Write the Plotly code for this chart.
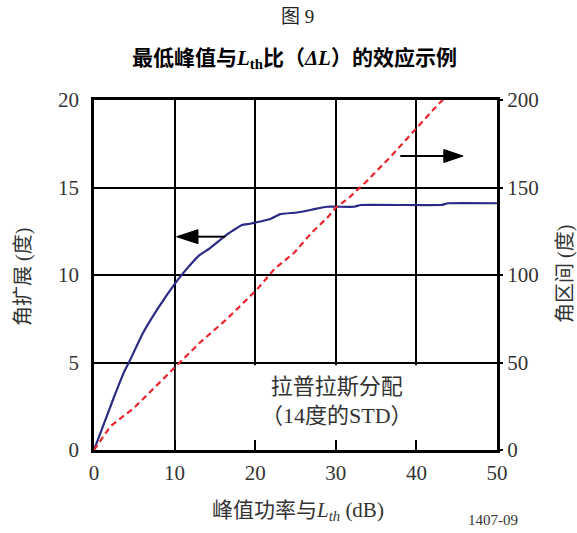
import plotly.graph_objects as go

# Data
blue_x = [0, 1.19, 2.46, 3.73, 4.36, 6.06, 7.97, 10.0, 11.14, 13.05, 14.3, 16.4, 18.35, 19.4,
          21.9, 23.1, 25.2, 27.3, 28.9, 32.3, 33.1, 43.1, 43.9, 50.0]
blue_y = [0, 1.45, 3.0, 4.45, 5.03, 6.67, 8.12, 9.48, 10.15, 11.12, 11.5, 12.28, 12.86, 12.93,
          13.2, 13.48, 13.57, 13.76, 13.9, 13.9, 14.0, 14.0, 14.1, 14.1]

red_x = [0, 2.03, 5.0, 10.1, 13.05, 16.4, 20.25, 22.4, 24.9, 26.9, 29.0, 30.0, 31.6, 33.7, 36.8,
         42.8, 43.3]
red_y = [0, 13.5, 24.2, 47.4, 61, 74.5, 91.9, 103.5, 113, 123.7, 133, 138.5, 144, 153, 167.6,
         198, 200]

x_ticks = [0, 10, 20, 30, 40, 50]
y_ticks = [0, 5, 10, 15, 20]
y2_ticks = [0, 50, 100, 150, 200]

# arrows: (tail x, base-of-head x, tip x, y on left axis, half width)
left_arrow = (16.3, 12.9, 10.25, 12.19, 0.4)
right_arrow = (38.0, 43.4, 45.8, 16.8, 0.37)

SERIF = "'Liberation Serif', 'Times New Roman', Tinos, 'DejaVu Serif', 'Noto Serif', 'Noto Sans CJK SC', serif"

fig = go.Figure()
fig.add_trace(go.Scatter(x=blue_x, y=blue_y, mode="lines",
                         line=dict(color="#2b2a85", width=2.2, shape="spline", smoothing=0.3),
                         showlegend=False))
fig.add_trace(go.Scatter(x=red_x, y=red_y, mode="lines", yaxis="y2",
                         line=dict(color="#e8242c", width=2.2, dash="6px,4px"), showlegend=False))

shapes = []
# white box masking the gridlines behind the label
shapes.append(dict(type="rect", xref="x", yref="y", x0=10.15, x1=49.85, y0=0.57, y1=4.85,
                   fillcolor="white", line=dict(width=0), layer="between"))
for (tail, base, tip, yy, hw) in [left_arrow, right_arrow]:
    shapes.append(dict(type="line", xref="x", yref="y", x0=tail, x1=base, y0=yy, y1=yy,
                       line=dict(color="black", width=2)))
    shapes.append(dict(type="path", xref="x", yref="y",
                       path=f"M{base},{yy-hw} L{tip},{yy} L{base},{yy+hw} Z",
                       fillcolor="black", line=dict(color="black", width=1)))

annotations = [
    dict(text="图 9", x=297, y=16, showarrow=False,
         font=dict(family=SERIF, size=19, color="#222")),
    dict(text="<b>最低峰值与<i>L</i><sub>th</sub>比（<i>ΔL</i>）的效应示例</b>", x=294, y=59,
         showarrow=False, font=dict(family=SERIF, size=21, color="black")),
    dict(text="角扩展 (度)", x=23, y=277, textangle=-90, showarrow=False,
         font=dict(family=SERIF, size=20, color="#333")),
    dict(text="角区间 (度)", x=565, y=274, textangle=-90, showarrow=False,
         font=dict(family=SERIF, size=20, color="#333")),
    dict(text="峰值功率与<i>L<sub>th</sub></i> (dB)", x=298, y=511, showarrow=False,
         font=dict(family=SERIF, size=21, color="#333")),
    dict(text="1407-09", x=493, y=520, showarrow=False,
         font=dict(family=SERIF, size=15, color="#333")),
]
# convert pixel positions to paper coordinates
W, H = 577, 533
L, R, T, B = 94, 80, 100, 83
pw, ph = W - L - R, H - T - B
for a in annotations:
    a["xref"] = "paper"
    a["yref"] = "paper"
    a["x"] = (a["x"] - L) / pw
    a["y"] = 1 - (a["y"] - T) / ph
    a["xanchor"] = "center"
    a["yanchor"] = "middle"

annotations.append(dict(text="拉普拉斯分配<br>（14度的STD）", x=30.2, y=2.8, xref="x", yref="y",
                        showarrow=False, align="center",
                        font=dict(family=SERIF, size=22, color="#333")))

fig.update_layout(
    width=W, height=H,
    margin=dict(l=L, r=R, t=T, b=B, autoexpand=False),
    plot_bgcolor="white", paper_bgcolor="white",
    xaxis=dict(range=[0, 50], tickvals=x_ticks, showgrid=True, gridcolor="black", gridwidth=2,
               showline=True, linecolor="black", linewidth=2.5, mirror=True, zeroline=False,
               ticks="", ticklabelstandoff=2, automargin=False,
               tickfont=dict(family=SERIF, size=21, color="#333")),
    yaxis=dict(range=[0, 20], tickvals=y_ticks, showgrid=True, gridcolor="black", gridwidth=2,
               showline=True, linecolor="black", linewidth=2.5, mirror=True, zeroline=False,
               ticks="", ticklabelstandoff=8, automargin=False,
               tickfont=dict(family=SERIF, size=21, color="#333")),
    yaxis2=dict(range=[0, 200], tickvals=y2_ticks, overlaying="y", side="right", showgrid=False,
                zeroline=False, showline=False, ticks="outside", ticklen=5, tickwidth=2,
                tickcolor="black", ticklabelstandoff=0, automargin=False,
                tickfont=dict(family=SERIF, size=21, color="#333")),
    shapes=shapes,
    annotations=annotations,
    showlegend=False,
)

fig.write_html("out.html", config={"displayModeBar": False},
               post_script="document.body.style.margin='0';")
